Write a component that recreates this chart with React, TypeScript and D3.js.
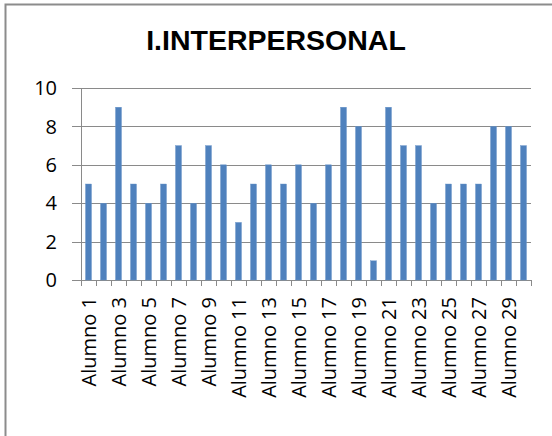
import React from "react";
import * as d3 from "d3";

const categories: string[] = Array.from({ length: 30 }, (_, i) => `Alumno ${i + 1}`);
const values: number[] = [5, 4, 9, 5, 4, 5, 7, 4, 7, 6, 3, 5, 6, 5, 6, 4, 6, 9, 8, 1, 9, 7, 7, 4, 5, 5, 5, 8, 8, 7];
const yTicks: number[] = [0, 2, 4, 6, 8, 10];
const title = "I.INTERPERSONAL";

export default function App() {
  const W = 552, H = 436;
  const left = 81, right = 531, top = 88, bottom = 280;
  const x = d3.scaleBand<string>().domain(categories).range([left, right]).paddingInner(0).paddingOuter(0);
  const y = d3.scaleLinear().domain([0, 10]).range([bottom, top]);
  const bw = 6;
  const grid = "#8a8a8a";
  const font = "'Open Sans', sans-serif";
  return (
    <svg width={W} height={H} style={{ position: "fixed", left: 0, top: 0, background: "#fff" }}>
      <rect x={0} y={0} width={W} height={H} fill="#fff" />
      <rect x={5.5} y={4.5} width={600} height={500} fill="#fff" stroke="#8c8c8c" strokeWidth={2} />
      <text x={276} y={50} textAnchor="middle" fontFamily="'Liberation Sans', Arial, sans-serif" fontWeight="bold" fontSize={28.5} fill="#000">{title}</text>
      {yTicks.map((t) => (
        <g key={t}>
          <line x1={left - 9} x2={right} y1={Math.round(y(t)) + 0.5} y2={Math.round(y(t)) + 0.5} stroke={grid} strokeWidth={1} />
          <text x={57} y={y(t)} dy="0.36em" textAnchor="end" fontFamily={font} fontSize={20} fill="#000">{t}</text>
        </g>
      ))}
      <line x1={left + 0.5} x2={left + 0.5} y1={top} y2={bottom + 6} stroke={grid} strokeWidth={1} />
      {categories.map((c, i) => (
        <line key={"t" + i} x1={Math.round(x(c)! + x.bandwidth()) + 0.5} x2={Math.round(x(c)! + x.bandwidth()) + 0.5} y1={bottom} y2={bottom + 6} stroke={grid} strokeWidth={1} />
      ))}
      {values.map((v, i) => {
        const cx = x(categories[i])! + x.bandwidth() / 2;
        return <rect key={"b" + i} x={cx - bw / 2} y={y(v)} width={bw} height={bottom - y(v)} fill="#4f81bd" stroke="#6a95c9" strokeWidth={0.4} />;
      })}
      {categories.map((c, i) =>
        i % 2 === 0 ? (
          <text key={"l" + i} transform={`translate(${x(c)! + x.bandwidth() / 2},297) rotate(-90)`} dy="0.36em" textAnchor="end" fontFamily={font} fontSize={20} fill="#000">{c}</text>
        ) : null
      )}
    </svg>
  );
}
